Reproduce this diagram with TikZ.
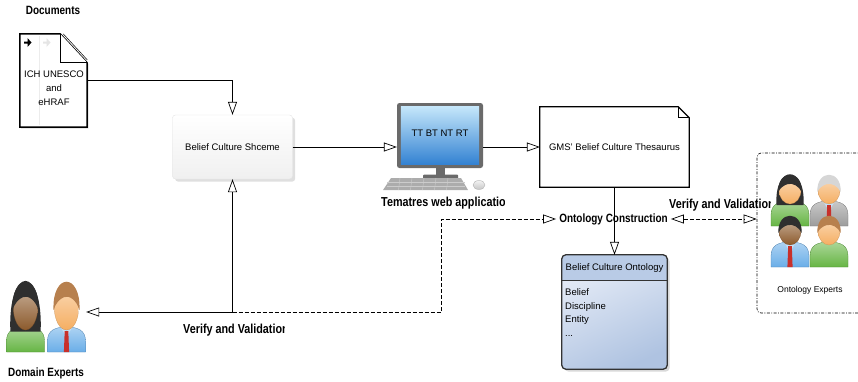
\documentclass[tikz,border=0pt]{standalone}
\usepackage{fontspec}
\setmainfont{Liberation Sans}
\newfontfamily\condfont[FakeStretch=0.83]{Liberation Sans}
\usepackage{ifthen}
\usetikzlibrary{arrows.meta,shadows,calc}

\definecolor{shirtgreen}{HTML}{66B544}
\definecolor{shirtblue}{HTML}{6AAEE8}
\definecolor{suitgrey}{HTML}{9C9C9C}
\definecolor{skinlight}{HTML}{F5AE62}
\definecolor{skindark}{HTML}{8C5A2C}
\definecolor{hairblack}{HTML}{2F2F2F}
\definecolor{hairbrown}{HTML}{B7804E}
\definecolor{hairgrey}{HTML}{D6D6D6}
\definecolor{tiered}{HTML}{C8302B}
\definecolor{monframe}{HTML}{6A6A6A}
\definecolor{screentop}{HTML}{C4E6FA}
\definecolor{screenbot}{HTML}{3382D2}
\definecolor{ontolight}{HTML}{E6ECF7}
\definecolor{ontodark}{HTML}{AFC3E1}
\definecolor{ontohead}{HTML}{B9CBE6}

\tikzset{conn/.style={line width=0.7pt,-{Triangle[open,length=13pt,width=9pt]}}}
\tikzset{dconn/.style={conn,dash pattern=on 4pt off 2pt}}
\tikzset{dconn2/.style={dconn,{Triangle[open,length=13pt,width=9pt]}-{Triangle[open,length=13pt,width=9pt]}}}
\tikzset{boldlbl/.style={font=\condfont\bfseries\fontsize{12}{12}\selectfont,inner sep=0pt}}
\tikzset{boldwide/.style={boldlbl,font=\condfont\bfseries\fontsize{13}{13}\selectfont}}
\tikzset{txt/.style={font=\fontsize{9.5}{11}\selectfont}}

% #1 foot point, #2 head scaling, #3 shirt, #4 skin, #5 hair, #6 tie/none, #7 long/short
\newcommand\person[7]{%
  \begin{scope}[shift={#1}]
    \shade[top color=#3!55!white,bottom color=#3,draw=#3!75!black,line width=0.3pt]
      (-19,0) -- (-19,-11) .. controls (-19,-22) and (-11,-25) .. (0,-25)
      .. controls (11,-25) and (19,-22) .. (19,-11) -- (19,0) -- cycle;
    \ifthenelse{\equal{#6}{tie}}{%
      \fill[shirtblue!40!white] (-6,-25) -- (0,-15) -- (6,-25) -- cycle;
      \fill[tiered] (-1.8,-21) -- (1.8,-21) -- (2.6,0) -- (-2.6,0) -- cycle;
    }{}
    \begin{scope}[shift={(0,-22)},#2]
      \ifthenelse{\equal{#7}{long}}{%
        \fill[#5] (-13.5,1) .. controls (-16,-40) and (16,-40) .. (13.5,1) -- cycle;
      }{}
      \shade[top color=#4!45!white,bottom color=#4,draw=#4!80!black,line width=0.2pt]
        (0,-14) ellipse (11 and 14);
      \fill[#5] (-11.6,-12) .. controls (-13,-35) and (13,-35) .. (11.6,-12)
        .. controls (9,-18) and (3,-21) .. (-2,-20)
        .. controls (-6,-19) and (-10,-16) .. cycle;
    \end{scope}
  \end{scope}}

\begin{document}
\begin{tikzpicture}[x=1pt,y=-1pt]
  \useasboundingbox (0,0) rectangle (858,381);

  % source documents
  \node[boldlbl] (doclbl) at (53,10) {Documents};
  \node[minimum width=67pt,minimum height=93pt,inner sep=0pt] (docs) at (53.5,80.5) {};
  \draw[line width=1.5pt,fill=white,drop shadow={opacity=0.5,shadow xshift=1.2pt,shadow yshift=-1.2pt}]
    (docs.north west) -- ($(docs.north east)+(-27,0)$) -- ($(docs.north east)+(0,29)$)
    -- (docs.south east) -- (docs.south west) -- cycle;
  \draw[gray!15,line width=1pt] (39,36) -- (39,125);
  \draw[line width=0.8pt,fill=white] ($(docs.north east)+(-27,0)$) |- ($(docs.north east)+(0,29)$);
  \draw[line width=0.5pt] ($(docs.north east)+(-24,0)$) -- ($(docs.north east)+(0,26)$);
  \fill (24,41.5) -- (27.5,41.5) -- (27.5,38) -- (31.5,42.5) -- (27.5,47) -- (27.5,43.5) -- (24,43.5) -- cycle;
  \fill[gray!20] (43,41.5) -- (46.5,41.5) -- (46.5,38) -- (50.5,42.5) -- (46.5,47) -- (46.5,43.5) -- (43,43.5) -- cycle;
  \node[txt,align=center,font=\fontsize{9.5}{14}\selectfont] (doctext) at (54,88) {ICH UNESCO\\and\\eHRAF};

  % scheme
  \node[txt,minimum width=120pt,minimum height=64pt,rounded corners=3pt,top color=white,bottom color=gray!12,
    draw=gray!22,drop shadow={opacity=0.25}] (scheme) at (232.5,147) {Belief Culture Shceme};

  % tematres on a pc
  \node[minimum width=86pt,minimum height=65pt,fill=monframe,rounded corners=2.5pt] (monitor) at (440,135.5) {};
  \shade[top color=screentop,bottom color=screenbot] ($(monitor.north west)+(4,4)$) rectangle ($(monitor.south east)+(-4,-4)$);
  \node[txt] (screentext) at (440,133) {TT BT NT RT};
  \fill[monframe] (436,168) rectangle (445,176);
  \fill[monframe,rounded corners=1pt] (423,174.5) rectangle (458,179);
  \fill[gray!65] (391,178) -- (461,178) -- (468,190) -- (383,190) -- cycle;
  \foreach \ky in {182,186}
    \draw[gray!40,line width=0.4pt] (387,\ky) -- (465,\ky);
  \foreach \kx in {400,412,424,436,448}
    \draw[gray!40,line width=0.4pt] (\kx,178) -- (\kx-1.5,190);
  \shade[top color=gray!10,bottom color=gray!45,draw=gray!60] (479,185) ellipse (6 and 4.5);
  \begin{scope}
    \clip (370,190) rectangle (504,215);
    \node[boldwide,anchor=west] (tematres) at (381,203) {Tematres web application};
  \end{scope}

  % thesaurus note
  \node[txt,minimum width=149pt,minimum height=80pt,inner sep=0pt] (thes) at (614.5,147) {GMS' Belief Culture Thesaurus};
  \draw[line width=1.2pt] (thes.north west) -- ($(thes.north east)+(-11,0)$) -- ($(thes.north east)+(0,11)$)
    -- (thes.south east) -- (thes.south west) -- cycle;
  \draw[line width=1pt] ($(thes.north east)+(-11,0)$) |- ($(thes.north east)+(0,11)$);

  \node[boldlbl,inner sep=3pt] (construct) at (613.5,219) {Ontology Construction};

  % ontology
  \node[minimum width=105pt,minimum height=114pt,rounded corners=4pt,top color=ontolight,bottom color=ontodark,
    shading angle=25,drop shadow={opacity=0.3}] (onto) at (614.5,312) {};
  \begin{scope}
    \clip[rounded corners=4pt] (onto.north west) rectangle (onto.south east);
    \fill[ontohead] (onto.north west) rectangle ($(onto.north east)+(0,26)$);
  \end{scope}
  \draw[line width=0.8pt,draw=black!80] ($(onto.north west)+(0,26)$) -- ($(onto.north east)+(0,26)$);
  \draw[line width=1.3pt,draw=black!80,rounded corners=4pt] (onto.north west) rectangle (onto.south east);
  \node[txt] (ontotitle) at (614.5,268) {Belief Culture Ontology};
  \node[txt,font=\fontsize{9.5}{13.5}\selectfont,anchor=north west,align=left,inner sep=0pt] (ontobody) at (565,288.5)
    {Belief\\Discipline\\Entity\\...};

  % ontology experts
  \node[minimum width=110pt,minimum height=160pt,rounded corners=4pt,draw,line width=0.6pt,
    dash pattern=on 3pt off 1.5pt on 0.8pt off 1.5pt] (ontx) at (812,233) {};
  \person{(790,226)}{yscale=1}{shirtgreen}{skinlight}{hairblack}{none}{long}
  \person{(829,226)}{yscale=1}{suitgrey}{skinlight}{hairgrey}{tie}{short}
  \person{(790,267)}{yscale=1}{shirtblue}{skindark}{hairblack}{tie}{short}
  \person{(829,267)}{yscale=1}{shirtgreen}{skinlight}{hairbrown}{none}{short}
  \node[txt,font=\fontsize{8.5}{10}\selectfont] (ontxlbl) at (810,290) {Ontology Experts};

  % domain experts
  \node[minimum width=80pt,minimum height=74pt,inner sep=0pt] (domx) at (46,315) {};
  \person{(25.5,352)}{xscale=1.12,yscale=1.65}{shirtgreen}{skindark}{hairblack}{none}{long}
  \person{(66.5,352)}{xscale=1.12,yscale=1.65}{shirtblue}{skinlight}{hairbrown}{tie}{short}
  \node[boldlbl] (domlbl) at (46,373) {Domain Experts};

  % connectors
  \coordinate (split) at (232.5,312);
  \coordinate (bend) at (441,312);
  \draw[conn] (docs.east) -| (scheme.north);
  \draw[conn] (scheme.east) -- (scheme.east -| monitor.west);
  \draw[conn] (thes.west -| monitor.east) -- (thes.west);
  \draw[conn] (thes.south) -- (onto.north);
  \draw[conn] (split) -- (scheme.south);
  \draw[conn] (split) -- (split -| domx.east);
  \draw[dconn] (split) -- (bend) |- (construct.west);
  \draw[dconn2] (construct.east) -- (construct.east -| ontx.west);

  \begin{scope}
    \clip (175,318) rectangle (284,342);
    \node[boldwide,anchor=west] (verify1) at (183,330) {Verify and Validation};
  \end{scope}
  \begin{scope}
    \clip (660,195) rectangle (770,214);
    \node[boldwide,anchor=west] (verify2) at (669,205) {Verify and Validation};
  \end{scope}
\end{tikzpicture}
\end{document}
